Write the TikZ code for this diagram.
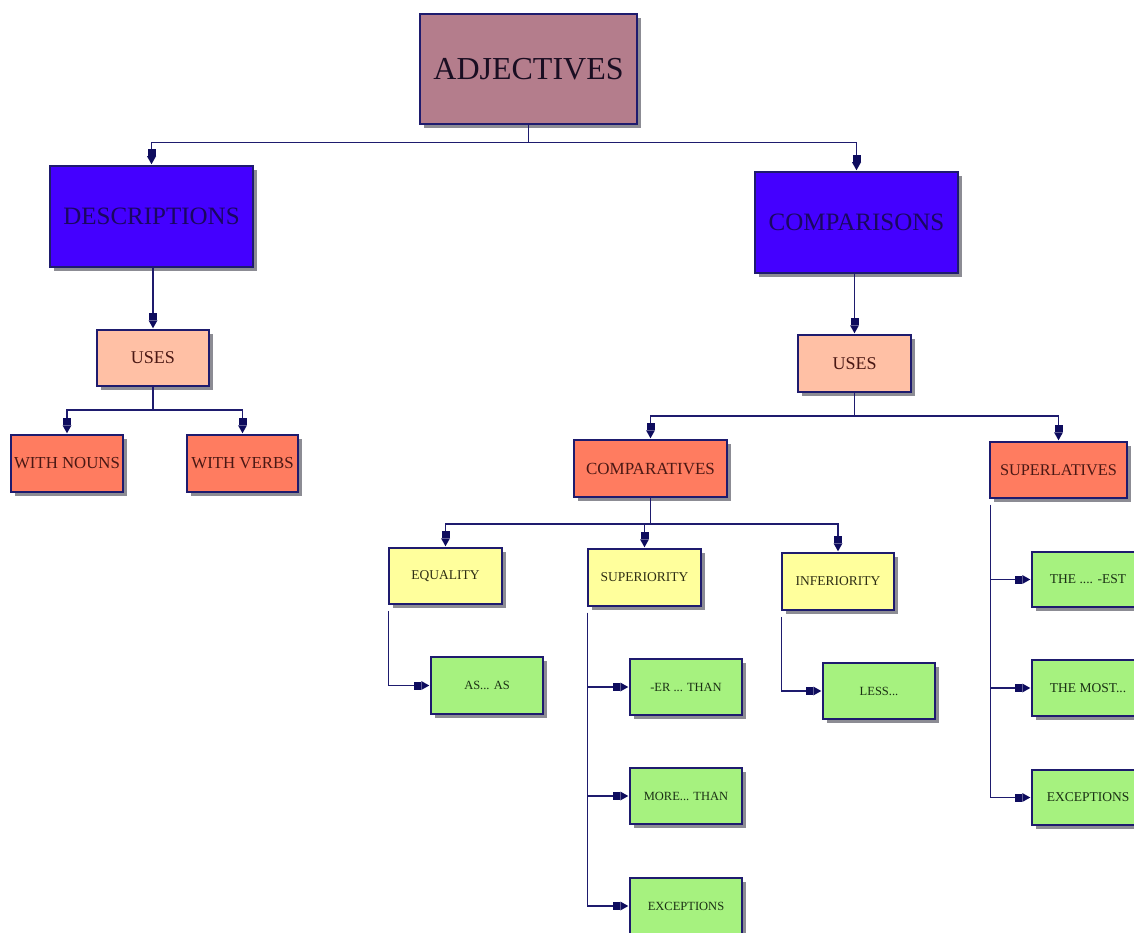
\documentclass[tikz,border=0pt]{standalone}
\usepackage{fontspec}
\setmainfont{Liberation Serif}
\usetikzlibrary{arrows.meta,shadows}
\definecolor{navy}{HTML}{1E1B6E}
\definecolor{anavy}{HTML}{0E0C5E}
\definecolor{mauve}{HTML}{B47D8C}
\definecolor{vblue}{HTML}{4400FF}
\definecolor{peach}{HTML}{FFC0A5}
\definecolor{coral}{HTML}{FF7C60}
\definecolor{pyellow}{HTML}{FFFF9C}
\definecolor{pgreen}{HTML}{A6F27F}
\definecolor{shad}{HTML}{8C8C94}
\definecolor{tdark}{HTML}{1A0E22}
\definecolor{tnavy}{HTML}{1A0860}
\definecolor{tbrown}{HTML}{4A1814}
\definecolor{tolive}{HTML}{2E2E14}
\definecolor{tgreen}{HTML}{1A3014}
\tikzset{
  box/.style={draw=navy, line width=1.5pt, inner sep=0pt, align=center,
    drop shadow={shadow xshift=4pt, shadow yshift=-4pt, fill=shad, opacity=1}},
  topbox/.style={box, fill=mauve, minimum width=217pt, minimum height=110pt,
    text=tdark, font=\fontsize{32}{36}\selectfont},
  bigbox/.style={box, fill=vblue, minimum width=203pt, minimum height=101pt,
    text=tnavy, font=\fontsize{25}{29}\selectfont},
  usebox/.style={box, fill=peach, minimum width=112pt, minimum height=56pt,
    text=tbrown, font=\fontsize{18}{22}\selectfont},
  corbox/.style={box, fill=coral, minimum height=57pt, text=tbrown},
  yelbox/.style={box, fill=pyellow, minimum width=113pt, minimum height=56pt,
    text=tolive, font=\fontsize{13.5}{16}\selectfont},
  grnbox/.style={box, fill=pgreen, minimum width=112pt, minimum height=56pt,
    text=tgreen, font=\fontsize{12.5}{15}\selectfont},
  conn/.style={draw=navy, line width=1.5pt},
  arr/.style={conn, -{Rectangle[length=7pt,width=8pt,line width=0pt,color=anavy,fill=anavy]Triangle[length=8pt,width=9pt,line width=0pt,color=anavy,fill=anavy]}, shorten >=1pt}
}
\begin{document}
\begin{tikzpicture}[x=1pt,y=-1pt]
\useasboundingbox (0,0) rectangle (1134,933);
\clip (0,0) rectangle (1134,933);
\fill[white] (0,0) rectangle (1134,933);

\node[topbox] (adj) at (528.5,69) {ADJECTIVES};
\node[bigbox] (desc) at (151.5,216.5) {DESCRIPTIONS};
\node[bigbox] (comp) at (856.5,222.5) {COMPARISONS};
\node[usebox] (usesl) at (153,358) {USES};
\node[usebox, minimum width=113pt, minimum height=57pt] (usesr) at (854.5,363.5) {USES};
\node[corbox, minimum width=112pt, font=\fontsize{16.8}{19}\selectfont] (nouns) at (67,463.5) {WITH NOUNS};
\node[corbox, minimum width=111pt, font=\fontsize{16.8}{19}\selectfont] (verbs) at (242.5,463.5) {WITH VERBS};
\node[corbox, minimum width=153pt, font=\fontsize{17}{19}\selectfont] (comparatives) at (650.5,468.5) {COMPARATIVES};
\node[corbox, minimum width=137pt, minimum height=56pt, font=\fontsize{16.3}{19}\selectfont] (superlatives) at (1058.5,470) {SUPERLATIVES};
\node[yelbox] (equality) at (445.5,576) {EQUALITY};
\node[yelbox, minimum height=57pt] (superiority) at (644.5,577.5) {SUPERIORITY};
\node[yelbox, minimum width=112pt, minimum height=57pt] (inferiority) at (838,581.5) {INFERIORITY};
\node[grnbox, minimum height=57pt] (asas) at (487,685.5) {AS... AS};
\node[grnbox] (er) at (686,687) {-ER ... THAN};
\node[grnbox] (more) at (686,796) {MORE... THAN};
\node[grnbox] (exc1) at (686,906) {EXCEPTIONS};
\node[grnbox] (less) at (879,691) {LESS...};
\node[grnbox, minimum height=55pt, font=\fontsize{13.5}{16}\selectfont] (est) at (1088,579.5) {THE .... -EST};
\node[grnbox, font=\fontsize{13.5}{16}\selectfont] (most) at (1088,688) {THE MOST...};
\node[grnbox, minimum height=55pt, font=\fontsize{13.5}{16}\selectfont] (exc2) at (1088,797.5) {EXCEPTIONS};

% top level
\draw[arr] (adj.south) -- +(0,18) -| (desc.north);
\draw[arr] (adj.south) -- +(0,18) -| (comp.north);
\draw[arr] (usesl.north |- desc.south) -- (usesl.north);
\draw[arr] (usesr.north |- comp.south) -- (usesr.north);
% left uses
\draw[arr] (usesl.south) -- +(0,23) -| (nouns.north);
\draw[arr] (usesl.south) -- +(0,23) -| (verbs.north);
% right uses
\draw[arr] (usesr.south) -- +(0,23) -| (comparatives.north);
\draw[arr] (usesr.south) -- +(0,23) -| (superlatives.north);
% comparatives
\draw[arr] (comparatives.south) -- +(0,26) -| (equality.north);
\draw[arr] (comparatives.south) -- +(0,26) -| (superiority.north);
\draw[arr] (comparatives.south) -- +(0,26) -| (inferiority.north);
% side branches
\draw[arr] ([yshift=-6pt]equality.south west) |- (asas.west);
\draw[arr] ([yshift=-6pt]superiority.south west) |- (er.west);
\draw[arr] ([yshift=-6pt]superiority.south west) |- (more.west);
\draw[arr] ([yshift=-6pt]superiority.south west) |- (exc1.west);
\draw[arr] ([yshift=-6pt]inferiority.south west) |- (less.west);
\draw[arr] ([yshift=-6pt,xshift=1pt]superlatives.south west) |- (est.west);
\draw[arr] ([yshift=-6pt,xshift=1pt]superlatives.south west) |- (most.west);
\draw[arr] ([yshift=-6pt,xshift=1pt]superlatives.south west) |- (exc2.west);
\end{tikzpicture}
\end{document}
